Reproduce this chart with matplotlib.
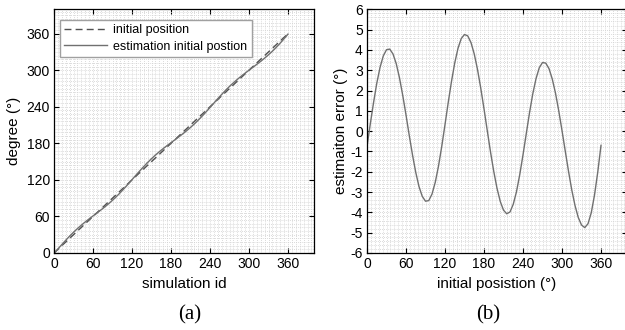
import matplotlib
matplotlib.use("Agg")
import matplotlib.pyplot as plt
from matplotlib.ticker import MultipleLocator

plt.rcParams['font.family'] = ['Liberation Sans', 'DejaVu Sans']
plt.rcParams['axes.unicode_minus'] = False

# ---- data ----
angle = [0, 5, 10, 15, 20, 25, 30, 35, 40, 45, 50, 55, 60, 65, 70, 75, 80, 85, 90,
         95, 100, 105, 110, 115, 120, 125, 130, 135, 140, 145, 150, 155, 160, 165,
         170, 175, 180, 185, 190, 195, 200, 205, 210, 215, 220, 225, 230, 235, 240,
         245, 250, 255, 260, 265, 270, 275, 280, 285, 290, 295, 300, 305, 310, 315,
         320, 325, 330, 335, 340, 345, 350, 355, 360]
error = [-0.75, 0.34, 1.39, 2.35, 3.13, 3.70, 4.01, 4.04, 3.80, 3.32, 2.62, 1.76,
         0.80, -0.21, -1.17, -2.03, -2.73, -3.21, -3.45,
         -3.42, -3.10, -2.52, -1.72, -0.75, 0.32, 1.42, 2.45, 3.36, 4.08, 4.56, 4.76,
         4.69, 4.36, 3.80, 3.04, 2.12, 1.10, 0.03, -1.02, -1.98, -2.81, -3.46, -3.89,
         -4.07, -3.98, -3.60, -2.98, -2.14, -1.17, -0.13, 0.90, 1.83, 2.58, 3.12, 3.38,
         3.35, 3.08, 2.57, 1.87, 1.00, 0.03, -0.98, -1.97, -2.89, -3.66, -4.25, -4.62,
         -4.75, -4.56, -4.02, -3.15, -2.02, -0.70]

sim_id = angle
initial_ids = [0, 360]
initial_pos = [0, 360]
estimated_pos = [-0.75, 5.34, 11.39, 17.35, 23.13, 28.70, 34.01, 39.04, 43.80, 48.32,
                 52.62, 56.76, 60.80, 64.79, 68.83, 72.97, 77.27, 81.79, 86.55,
                 91.58, 96.90, 102.48, 108.28, 114.25, 120.32, 126.42, 132.45, 138.36,
                 144.08, 149.56, 154.76, 159.69, 164.36, 168.80, 173.04, 177.12,
                 181.10, 185.03, 188.98, 193.02, 197.19, 201.54, 206.11, 210.93,
                 216.02, 221.40, 227.02, 232.86, 238.83, 244.87, 250.90, 256.83,
                 262.58, 268.12, 273.38, 278.35, 283.08, 287.57, 291.87, 296.00,
                 300.03, 304.02, 308.03, 312.11, 316.34, 320.75, 325.38, 330.25,
                 335.44, 340.98, 346.85, 352.98, 359.30]

xticks = [0, 60, 120, 180, 240, 300, 360]
left_yticks = [0, 60, 120, 180, 240, 300, 360]
right_yticks = [-6, -5, -4, -3, -2, -1, 0, 1, 2, 3, 4, 5, 6]

fig = plt.figure(figsize=(6.25, 3.3), dpi=100)
ax1 = fig.add_axes([54/625, 77/330, 260/625, 243.7/330])
ax2 = fig.add_axes([367/625, 77/330, 260/625, 243.7/330])

grid_kw = dict(color='#cfcfcf', linestyle=(0, (1, 1.5)), linewidth=0.6)

def style(ax):
    ax.tick_params(direction='in', length=3.5, width=0.8, top=True, right=True,
                   labelsize=10, pad=3, colors='black')
    ax.tick_params(which='minor', length=0)
    ax.grid(True, which='both', **grid_kw)
    ax.set_axisbelow(True)
    for s in ax.spines.values():
        s.set_linewidth(0.9)
        s.set_color('black')

# left panel
ax1.plot(initial_ids, initial_pos, linestyle=(0, (5, 3)), color='#505050', linewidth=1.0,
         label='initial position')
ax1.plot(sim_id, estimated_pos, linestyle='-', color='#707070', linewidth=1.0,
         label='estimation initial postion')
ax1.set_xlim(0, 400)
ax1.set_ylim(0, 400)
ax1.set_xticks(xticks)
ax1.set_yticks(left_yticks)
ax1.xaxis.set_minor_locator(MultipleLocator(6))
ax1.yaxis.set_minor_locator(MultipleLocator(6))
style(ax1)
ax1.set_xlabel('simulation id', fontsize=11, labelpad=4)
ax1.set_ylabel('degree (°)', fontsize=11, labelpad=4)
leg = ax1.legend(loc='upper left', bbox_to_anchor=(0.023, 0.956), borderaxespad=0,
                 fontsize=9, frameon=True, fancybox=False, framealpha=1,
                 edgecolor='#a0a0a0', handlelength=3.4, handletextpad=0.5,
                 borderpad=0.35, labelspacing=0.35)
leg.get_frame().set_linewidth(1.0)

# right panel
ax2.plot(angle, error, linestyle='-', color='#707070', linewidth=1.0)
ax2.set_xlim(0, 400)
ax2.set_ylim(-6, 6)
ax2.set_xticks(xticks)
ax2.set_yticks(right_yticks)
ax2.xaxis.set_minor_locator(MultipleLocator(6))
ax2.yaxis.set_minor_locator(MultipleLocator(0.2))
style(ax2)
ax2.set_xlabel('initial posistion (°)', fontsize=11, labelpad=4)
ax2.set_ylabel('estimaiton error (°)', fontsize=11, labelpad=2)

fig.text(190/625, 1 - 315/330, '(a)', fontsize=15, family='Liberation Serif',
         ha='center', va='center')
fig.text(488/625, 1 - 315/330, '(b)', fontsize=15, family='Liberation Serif',
         ha='center', va='center')

fig.savefig('out.png', dpi=100)
